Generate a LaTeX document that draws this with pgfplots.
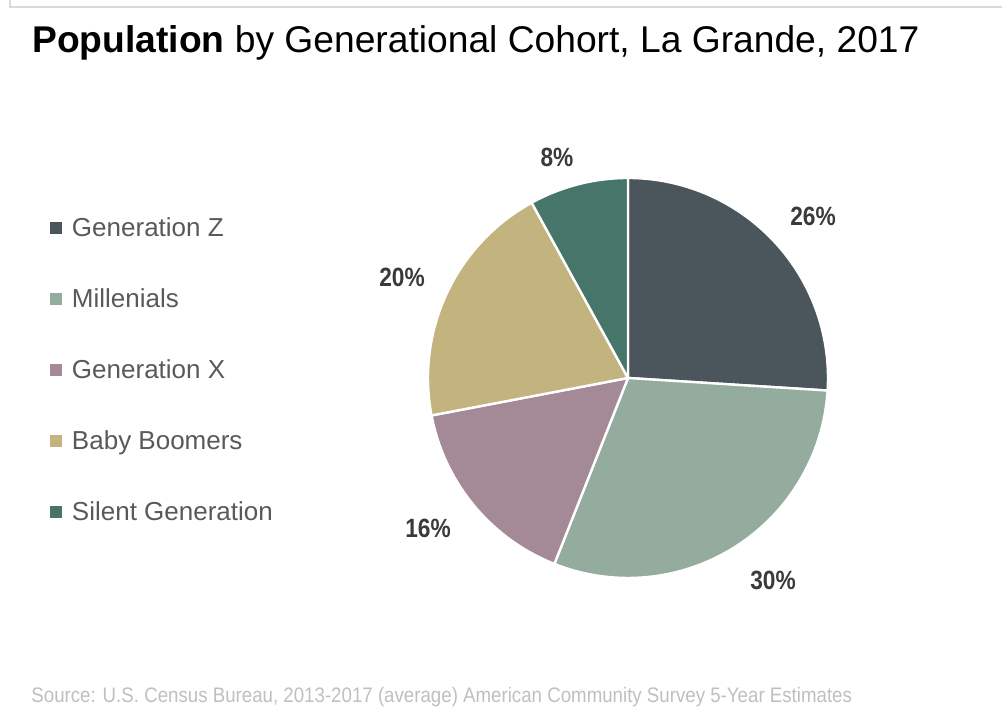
\documentclass[border=0pt]{standalone}
\usepackage{pgfplots}
\usepackage{pgfplotstable}
\pgfplotsset{compat=1.18}
\usepackage{fontspec}
\setmainfont{Liberation Sans}
\newfontfamily\narrowfont[FakeStretch=0.86]{Liberation Sans}
\newfontfamily\srcfont[FakeStretch=0.89]{Liberation Sans}

\definecolor{col0}{HTML}{4B555C}
\definecolor{col1}{HTML}{94AC9E}
\definecolor{col2}{HTML}{A48A97}
\definecolor{col3}{HTML}{C3B37E}
\definecolor{col4}{HTML}{46766A}
\definecolor{legtext}{HTML}{595959}
\definecolor{labtext}{HTML}{3A3A3A}
\definecolor{srctext}{HTML}{BFBFBF}
\definecolor{framegray}{HTML}{DADADA}

% share (%), label position (px, from top-left)
\pgfplotstableread{
idx value labx laby
0 26 813 216
1 30 773 580
2 16 428 528
3 20 402 277
4 8 557 157
}\piedata

\newcommand\computeangles{%
  \gdef\curang{90}%
  \foreach \i in {0,...,4}{%
    \pgfplotstablegetelem{\i}{value}\of\piedata
    \pgfmathsetmacro\st{\curang}%
    \pgfmathsetmacro\en{\curang-3.6*\pgfplotsretval}%
    \expandafter\xdef\csname st\i\endcsname{\st}%
    \expandafter\xdef\csname en\i\endcsname{\en}%
    \xdef\curang{\en}%
  }}

\begin{document}
\computeangles
\begin{tikzpicture}
\path[use as bounding box] (0,0) rectangle (501pt,363pt);
\begin{axis}[
  scale only axis, width=501pt, height=363pt,
  xmin=0, xmax=1002, ymin=0, ymax=726,
  hide axis, clip=false,
  legend image code/.code={\fill[#1] (0pt,1pt) rectangle (6pt,7pt);},
  legend style={draw=none, fill=none, at={(axis cs:50,726-217)}, anchor=north west,
    font=\fontsize{13}{15}\selectfont, text=legtext,
    row sep=23.3pt, inner sep=0pt,
    nodes={inner sep=0pt, text height=9.5pt, text depth=2.7pt, anchor=base west},
    column sep=4.8pt},
  legend cell align=left,
]
% frame
\draw[framegray, line width=1pt] (axis cs:10,726) -- (axis cs:10,719) -- (axis cs:1002,719);

% pie
\pgfplotsinvokeforeach{0,...,4}{
  \fill[col#1, draw=white, line width=1.2pt, line join=round]
    (axis cs:628,348) -- ++(\csname st#1\endcsname:100pt)
    arc[start angle=\csname st#1\endcsname, end angle=\csname en#1\endcsname, radius=100pt] -- cycle;
}

\addlegendimage{fill=col0, draw=none}\addlegendentry{Generation Z}
\addlegendimage{fill=col1, draw=none}\addlegendentry{Millenials}
\addlegendimage{fill=col2, draw=none}\addlegendentry{Generation X}
\addlegendimage{fill=col3, draw=none}\addlegendentry{Baby Boomers}
\addlegendimage{fill=col4, draw=none}\addlegendentry{Silent Generation}

% data labels
\addplot[forget plot, draw=none, mark=none,
  point meta=explicit,
  nodes near coords={\pgfmathprintnumber[assume math mode=true]{\pgfplotspointmeta}\%},
  every node near coord/.append style={anchor=center, inner sep=0pt,
    font=\narrowfont\bfseries\fontsize{13.2}{15}\selectfont, text=labtext}]
  table[x=labx, y expr=726-\thisrow{laby}, meta=value] {\piedata};

% title
\node[anchor=base west, inner sep=0pt, font=\fontsize{18.6}{22}\selectfont, text=black]
  at (axis cs:32,726-53) {\textbf{Population} by Generational Cohort, La Grande, 2017};
% source
\node[anchor=base west, inner sep=0pt, font=\srcfont\fontsize{10.5}{12}\selectfont, text=srctext]
  at (axis cs:31,726-703) {Source: U.S. Census Bureau, 2013-2017 (average) American Community Survey 5-Year Estimates};
\end{axis}
\end{tikzpicture}
\end{document}
